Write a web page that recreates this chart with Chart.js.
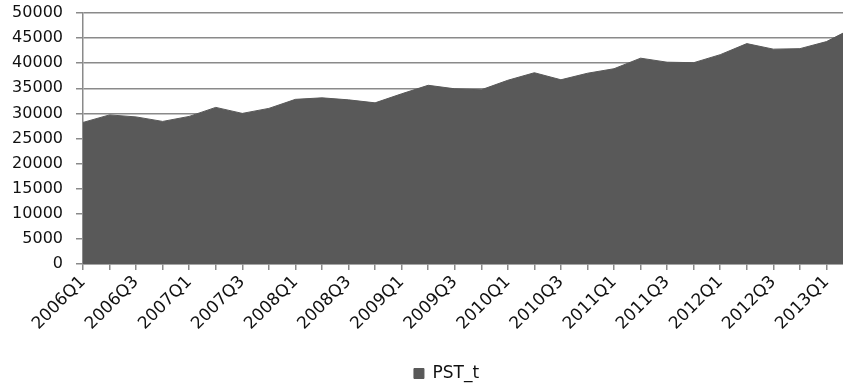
<!DOCTYPE html>
<html>
<head>
<meta charset="utf-8">
<script src="https://cdn.jsdelivr.net/npm/chart.js@4"></script>
<style>
  html, body { margin: 0; padding: 0; background: #fff; overflow: hidden; }
  #wrap { width: 894px; height: 387px; }
</style>
</head>
<body>
<div id="wrap"><canvas id="chart" width="894" height="387"></canvas></div>
<script>
// quarters shown on the x axis
const quarters = [
    '2006Q1', '2006Q2', '2006Q3', '2006Q4',
    '2007Q1', '2007Q2', '2007Q3', '2007Q4',
    '2008Q1', '2008Q2', '2008Q3', '2008Q4',
    '2009Q1', '2009Q2', '2009Q3', '2009Q4',
    '2010Q1', '2010Q2', '2010Q3', '2010Q4',
    '2011Q1', '2011Q2', '2011Q3', '2011Q4',
    '2012Q1', '2012Q2', '2012Q3', '2012Q4',
    '2013Q1', '2013Q2'
];

// PST_t values
const pstValues = [
    28200, 29700, 29300, 28400,
    29400, 31200, 30000, 31000,
    32800, 33100, 32700, 32100,
    33900, 35600, 34900, 34700,
    36600, 38100, 36700, 38000,
    38900, 41000, 40200, 40100,
    41700, 43900, 42800, 42900,
    44300, 47000
];

const seriesName = 'PST_t';
const yMin = 0;
const yMax = 50000;
const yStep = 5000;

const fillColor = '#595959';
const gridColor = '#8a8a8a';
const textColor = '#111';
const fontFamily = '"DejaVu Sans", sans-serif';

// the legend sits a bit right of and below where Chart.js puts it
const legendShift = {
    id: 'legendShift',
    afterLayout(chart) {
        chart.legend.left += 20;
        chart.legend.right += 20;
        chart.legend.top += 5;
        chart.legend.bottom += 5;
    }
};

new Chart(document.getElementById('chart'), {
    type: 'line',
    data: {
        labels: quarters,
        datasets: [{
            label: seriesName,
            data: pstValues,
            backgroundColor: fillColor,
            borderColor: fillColor,
            borderWidth: 1,
            fill: 'origin',
            pointRadius: 0,
            tension: 0
        }]
    },
    options: {
        responsive: false,
        animation: false,
        devicePixelRatio: 1,
        layout: {
            padding: { top: 13, right: 41, bottom: 0, left: 0 }
        },
        plugins: {
            tooltip: { enabled: false },
            legend: {
                position: 'bottom',
                labels: {
                    boxWidth: 10,
                    boxHeight: 10,
                    padding: 5,
                    color: textColor,
                    font: { family: fontFamily, size: 17 }
                }
            }
        },
        scales: {
            x: {
                offset: false,
                grid: {
                    drawOnChartArea: false,
                    drawTicks: true,
                    tickLength: 6,
                    color: gridColor,
                    lineWidth: 1.5
                },
                border: { display: true, color: gridColor, width: 1.5 },
                ticks: {
                    autoSkip: false,
                    minRotation: 45,
                    maxRotation: 45,
                    padding: 2,
                    color: textColor,
                    font: { family: fontFamily, size: 17 },
                    callback: function (value, index) {
                        return index % 2 === 0 ? quarters[index] : '';
                    }
                },
                afterFit: function (scale) {
                    scale.height = 91;
                }
            },
            y: {
                min: yMin,
                max: yMax,
                grid: {
                    drawTicks: true,
                    tickLength: 7,
                    color: gridColor,
                    lineWidth: 1.5
                },
                border: { display: true, color: gridColor, width: 1.5 },
                ticks: {
                    stepSize: yStep,
                    padding: 13,
                    color: textColor,
                    font: { family: fontFamily, size: 16 },
                    callback: function (value) {
                        return String(value);
                    }
                },
                afterFit: function (scale) {
                    scale.width = 83;
                    scale.paddingTop = 0;
                    scale.paddingBottom = 0;
                }
            }
        }
    },
    plugins: [legendShift]
});
</script>
</body>
</html>
